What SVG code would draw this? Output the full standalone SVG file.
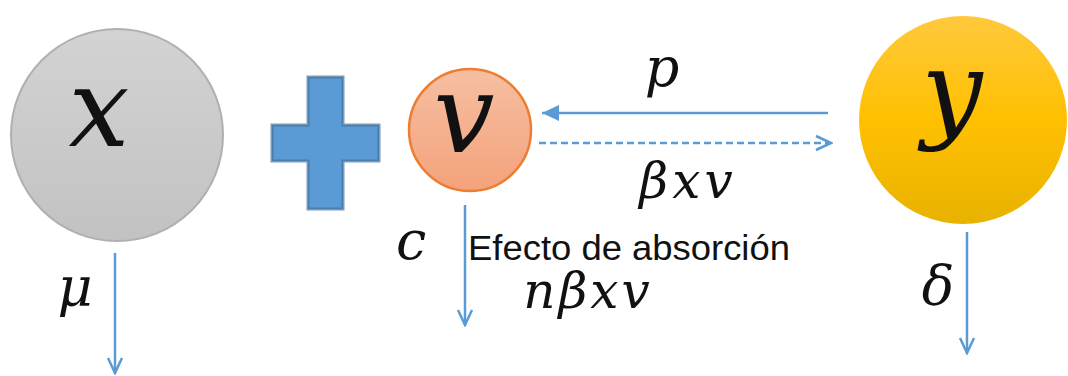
<svg xmlns="http://www.w3.org/2000/svg" width="1068" height="376" viewBox="0 0 1068 376">
<defs>
<style>
.m{font-family:"DejaVu Serif","Liberation Serif",serif;font-style:italic;fill:#111}
.t{font-family:"Liberation Sans",Arial,sans-serif;fill:#111}
.ln{stroke:#5b9bd5;stroke-width:2.5;fill:none}
</style>
<linearGradient id="gx" x1="0" y1="0" x2="0" y2="1"><stop offset="0" stop-color="#d3d3d3"/><stop offset="1" stop-color="#c2c2c2"/></linearGradient>
<linearGradient id="gv" x1="0" y1="0" x2="0" y2="1"><stop offset="0" stop-color="#f6bfa2"/><stop offset="1" stop-color="#f4a27c"/></linearGradient>
<linearGradient id="gy" x1="0" y1="0" x2="0" y2="1"><stop offset="0" stop-color="#ffc93c"/><stop offset="0.5" stop-color="#ffc000"/><stop offset="1" stop-color="#e8b200"/></linearGradient>
<marker id="open" viewBox="0 0 20 20" refX="18" refY="10" markerWidth="20" markerHeight="20" markerUnits="userSpaceOnUse" orient="auto">
<path d="M3,3 L18,10 L3,17" fill="none" stroke="#5b9bd5" stroke-width="2.5"/>
</marker>
<marker id="fill" viewBox="0 0 20 20" refX="19" refY="10" markerWidth="20" markerHeight="20" markerUnits="userSpaceOnUse" orient="auto">
<path d="M2,2 L19,10 L2,18 Z" fill="#5b9bd5"/>
</marker>
</defs>
<rect width="1068" height="376" fill="#fff"/>
<g id="node-x">
<circle cx="117" cy="135" r="106" fill="url(#gx)" stroke="#b0b0b0" stroke-width="2"/>
<text class="m" x="99" y="146" font-size="108" text-anchor="middle">x</text>
</g>
<g id="node-plus">
<path d="M308,77 H343 V125 H379 V161 H343 V209 H308 V161 H272 V125 H308 Z" fill="#5b9bd5" stroke="#41719c" stroke-opacity="0.7" stroke-width="3"/>
</g>
<g id="node-v">
<circle cx="470" cy="130" r="61" fill="url(#gv)" stroke="#ed7d31" stroke-width="2.5"/>
<text class="m" x="464" y="152" font-size="108" text-anchor="middle">v</text>
</g>
<g id="node-y">
<circle cx="963" cy="120" r="104" fill="url(#gy)"/>
<text class="m" x="952" y="128" font-size="108" text-anchor="middle">y</text>
</g>
<g id="connectors">
<line class="ln" x1="828" y1="113" x2="542" y2="113" marker-end="url(#fill)"/>
<line class="ln" x1="539" y1="143" x2="831" y2="143" stroke-dasharray="7,4" marker-end="url(#open)"/>
<line class="ln" x1="115" y1="253" x2="115" y2="373" marker-end="url(#open)"/>
<line class="ln" x1="465" y1="205" x2="465" y2="325" marker-end="url(#open)"/>
<line class="ln" x1="967" y1="232" x2="967" y2="353" marker-end="url(#open)"/>
</g>
<g id="labels">
<text class="m" x="662" y="86" font-size="54" text-anchor="middle">p</text>
<text class="m" x="688" y="198" font-size="50" text-anchor="middle" letter-spacing="4">βxv</text>
<text class="m" x="411" y="259" font-size="54" text-anchor="middle">c</text>
<text class="t" x="468" y="260" font-size="35" textLength="322" lengthAdjust="spacingAndGlyphs">Efecto de absorción</text>
<text class="m" x="588" y="308" font-size="50" text-anchor="middle" letter-spacing="3">nβxv</text>
<text class="m" x="75" y="306" font-size="54" text-anchor="middle">μ</text>
<text class="m" x="938" y="304" font-size="54" text-anchor="middle">δ</text>
</g>
</svg>
